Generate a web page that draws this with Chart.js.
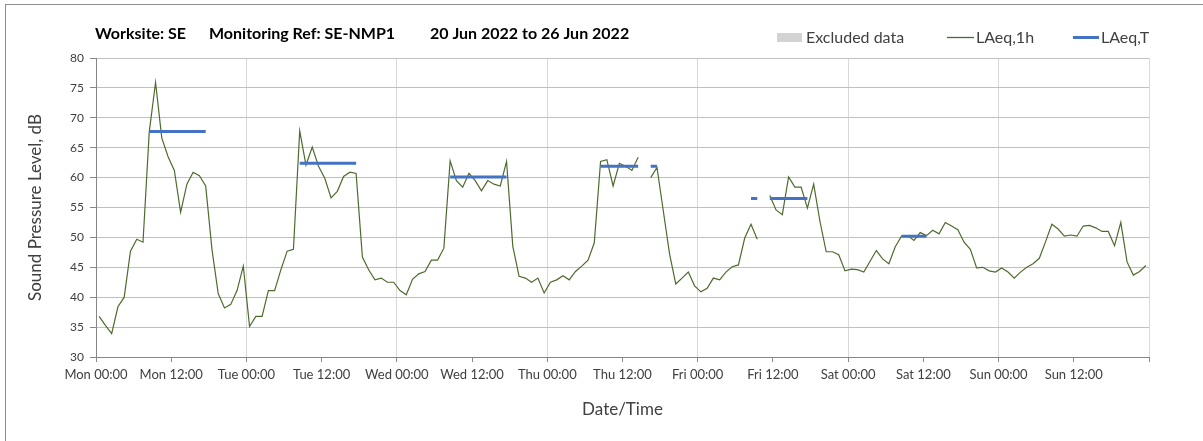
<!DOCTYPE html>
<html><head><meta charset="utf-8">
<script src="https://cdn.jsdelivr.net/npm/chart.js@4"></script>
<style>
html,body{margin:0;padding:0;background:#fff;}
#wrap{position:relative;width:1203px;height:441px;overflow:hidden;}
#frame{position:absolute;left:5px;top:4px;width:1300px;height:500px;border-left:1px solid #8c8c8c;border-top:1px solid #8c8c8c;}
canvas{position:absolute;left:0;top:0;}
</style></head><body>
<div id="wrap"><div id="frame"></div><canvas id="c" width="1203" height="441"></canvas></div>
<script>
// ---- data ----
const titleParts = ['Worksite: SE', 'Monitoring Ref: SE-NMP1', '20 Jun 2022 to 26 Jun 2022'];
const tickLabels = ['Mon 00:00','Mon 12:00','Tue 00:00','Tue 12:00','Wed 00:00','Wed 12:00','Thu 00:00',
                    'Thu 12:00','Fri 00:00','Fri 12:00','Sat 00:00','Sat 12:00','Sun 00:00','Sun 12:00'];
const seriesNames = ['Excluded data', 'LAeq,1h', 'LAeq,T'];
// hourly LAeq,1h values, Mon 00:00 .. Sun 23:00 (null = excluded hour)
const laeq1h = [
  36.8,35.3,33.9,38.4,40.0,47.7,49.7,49.2,67.7,75.9,66.6,63.5,61.2,54.2,58.9,60.9,60.3,58.6,48.0,40.6,38.2,38.8,41.1,45.2,
  35.1,36.8,36.8,41.1,41.1,44.6,47.7,48.0,67.8,62.1,65.1,61.9,59.9,56.6,57.7,60.2,60.9,60.7,46.7,44.6,42.9,43.2,42.5,42.5,
  41.1,40.4,43.0,43.9,44.3,46.2,46.2,48.2,62.8,59.5,58.4,60.7,59.5,57.8,59.5,58.9,58.6,62.7,48.5,43.5,43.2,42.5,43.2,40.7,
  42.5,42.9,43.6,42.9,44.3,45.2,46.2,49.1,62.7,63.0,58.6,62.4,61.9,61.2,63.4,null,60.0,61.7,54.5,47.3,42.2,43.2,44.2,41.9,
  40.9,41.5,43.2,42.9,44.2,45.1,45.4,49.9,52.2,49.7,null,57.0,54.6,53.8,60.1,58.4,58.4,54.9,58.9,52.7,47.6,47.6,47.1,44.4,
  44.7,44.6,44.2,46.0,47.8,46.4,45.6,48.4,50.2,50.3,49.5,50.8,50.3,51.2,50.6,52.5,51.9,51.3,49.2,48.0,44.9,45.0,44.4,44.2,
  44.9,44.2,43.2,44.2,45.0,45.6,46.5,49.3,52.2,51.4,50.2,50.4,50.2,51.9,52.0,51.6,51.0,51.0,48.6,52.5,45.9,43.7,44.3,45.3
];
// LAeq,T assessment periods (hour of week start / end) and their levels
const periodStart = [8, 32, 56, 80, 104, 128];
const periodEnd   = [18, 42, 66, 90, 114, 133];
const periodLevel = [67.7, 62.4, 60.1, 61.9, 56.5, 50.2];
const excludedHours = [87, 106];
const yTicks = [30,35,40,45,50,55,60,65,70,75,80];

// ---- build library data from the arrays ----
const greenPts = laeq1h.map((v, i) => ({x: i + 0.5, y: v}));
const bluePts = [];
periodStart.forEach((s, k) => {
  for (let h = s; h < periodEnd[k]; h++) {
    bluePts.push({x: h + 0.5, y: excludedHours.includes(h) ? null : periodLevel[k]});
  }
  bluePts.push({x: periodEnd[k], y: null});
});

const FONT = 'Lato';
const TXT = '#404040';

const overlay = {
  id: 'overlay',
  afterDraw(chart) {
    const ctx = chart.ctx;
    ctx.save();
    ctx.fillStyle = '#000';
    ctx.textBaseline = 'middle';
    ctx.font = 'bold 16px ' + FONT;
    const tx = [95, 209, 430];
    titleParts.forEach((t, i) => ctx.fillText(t, tx[i], 34));
    // legend
    ctx.font = '16px ' + FONT;
    ctx.fillStyle = '#d3d3d3';
    ctx.fillRect(777, 33, 25, 9);
    ctx.fillStyle = TXT;
    ctx.fillText(seriesNames[0], 806, 37.5);
    ctx.strokeStyle = '#4e6b2e'; ctx.lineWidth = 1.3;
    ctx.beginPath(); ctx.moveTo(947, 37.5); ctx.lineTo(974, 37.5); ctx.stroke();
    ctx.fillText(seriesNames[1], 976, 37.5);
    ctx.strokeStyle = '#4472c4'; ctx.lineWidth = 3;
    ctx.beginPath(); ctx.moveTo(1073, 37.5); ctx.lineTo(1099, 37.5); ctx.stroke();
    ctx.fillText(seriesNames[2], 1101, 37.5);
    ctx.restore();
  }
};

new Chart(document.getElementById('c'), {
  type: 'line',
  data: {
    datasets: [
      {label: seriesNames[1], data: greenPts, borderColor: '#4e6b2e', borderWidth: 1.2,
       pointRadius: 0, tension: 0, spanGaps: false, order: 2},
      {label: seriesNames[2], data: bluePts, borderColor: '#4472c4', borderWidth: 3,
       pointRadius: 0, tension: 0, spanGaps: false, borderCapStyle: 'butt', order: 1}
    ]
  },
  options: {
    responsive: false,
    animation: false,
    events: [],
    layout: {padding: {left: 5, top: 58, right: 54, bottom: 0}},
    plugins: {legend: {display: false}, title: {display: false}, tooltip: {enabled: false}},
    scales: {
      x: {
        type: 'linear', min: 0, max: 168,
        afterFit: s => { s.height = 84; },
        afterBuildTicks: s => { s.ticks = tickLabels.map((_, i) => ({value: i * 12})).concat([{value: 168}]); },
        ticks: {
          autoSkip: false, maxRotation: 0, padding: 5,
          color: TXT, font: {family: FONT, size: 13},
          callback: v => tickLabels[v / 12] ?? ''
        },
        grid: {
          color: c => (c.tick && c.tick.value % 24 === 0) ? '#d9d9d9' : 'rgba(0,0,0,0)',
          tickColor: '#8a8a8a', tickLength: 5, lineWidth: 1
        },
        border: {color: '#868686', width: 1},
        title: {display: true, text: 'Date/Time', color: TXT, font: {family: FONT, size: 17},
                padding: {top: 0, bottom: 21}}
      },
      y: {
        min: 30, max: 80,
        afterFit: s => { s.width = 91; },
        afterBuildTicks: s => { s.ticks = yTicks.map(v => ({value: v})); },
        ticks: {color: TXT, font: {family: FONT, size: 12}, padding: 6},
        grid: {color: '#c0c0c0', tickColor: '#8a8a8a', tickLength: 6, lineWidth: 1},
        border: {color: '#868686', width: 1},
        title: {display: true, text: 'Sound Pressure Level, dB', color: TXT,
                font: {family: FONT, size: 17}, padding: {top: 20, bottom: 0}}
      }
    }
  },
  plugins: [overlay]
});
</script>
</body></html>
